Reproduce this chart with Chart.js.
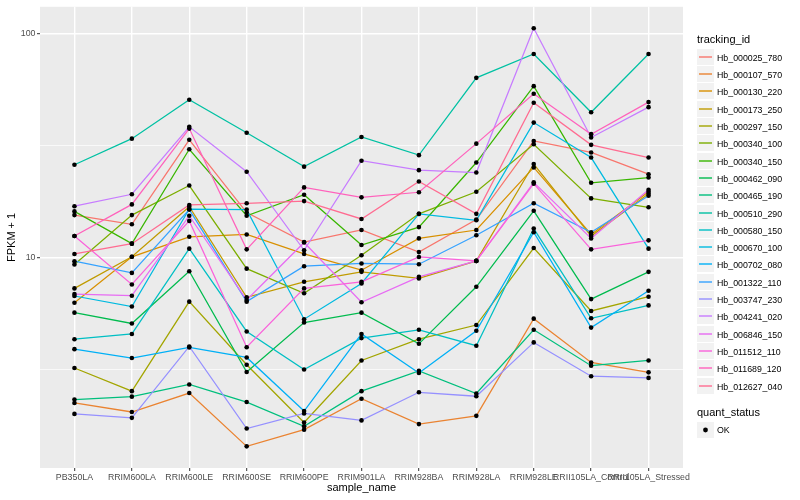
<!DOCTYPE html>
<html><head><meta charset="utf-8">
<script src="https://cdn.jsdelivr.net/npm/chart.js@4"></script>
<style>
html,body{margin:0;padding:0;background:#fff;}
#wrap{position:relative;width:800px;height:500px;font-family:"Liberation Sans",Arial,sans-serif;overflow:hidden;}
canvas{position:absolute;left:0;top:0;}
.lg{position:absolute;font-size:8.8px;line-height:10px;color:#000;white-space:nowrap;}
.lt{position:absolute;font-size:11px;line-height:13px;color:#000;white-space:nowrap;}
</style></head><body>
<div id="wrap"><canvas id="c" width="800" height="500"></canvas><div id="legend"></div></div>
<script>
// ---- data ----
const categories = ["PB350LA","RRIM600LA","RRIM600LE","RRIM600SE","RRIM600PE","RRIM901LA","RRIM928BA","RRIM928LA","RRIM928LE","RRII105LA_Control","RRII105LA_Stressed"];
const trackingIds = ["Hb_000025_780","Hb_000107_570","Hb_000130_220","Hb_000173_250","Hb_000297_150","Hb_000340_100","Hb_000340_150","Hb_000462_090","Hb_000465_190","Hb_000510_290","Hb_000580_150","Hb_000670_100","Hb_000702_080","Hb_001322_110","Hb_003747_230","Hb_004241_020","Hb_006846_150","Hb_011512_110","Hb_011689_120","Hb_012627_040"];
const seriesColors = ["#F8766D","#EA8331","#D89000","#C09B00","#A3A500","#7CAE00","#39B600","#00BB4E","#00BF7D","#00C1A3","#00BFC4","#00BAE0","#00B0F6","#35A2FF","#9590FF","#C77CFF","#E76BF3","#FA62DB","#FF62BC","#FF6C91"];
// FPKM + 1 values, one array per tracking_id, in category order
const hb000025_780 = [15.5, 14.1, 33.6, 15.9, 11.75, 13.3, 10.6, 14.8, 33.2, 29.5, 23.6];
const hb000107_570 = [2.25, 2.05, 2.49, 1.44, 1.71, 2.35, 1.81, 1.97, 5.35, 3.41, 3.08];
const hb000130_220 = [6.30, 10.1, 12.4, 12.7, 10.4, 8.80, 12.2, 13.3, 25.3, 12.7, 19.7];
const hb000173_250 = [7.30, 10.1, 16.9, 6.66, 7.81, 8.65, 8.09, 9.68, 26.2, 12.5, 19.3];
const hb000297_150 = [3.22, 2.54, 6.37, 3.33, 1.84, 3.48, 4.33, 5.01, 11.05, 5.79, 6.70];
const hb000340_100 = [9.33, 15.5, 21.0, 8.94, 6.94, 10.26, 15.7, 19.7, 32.1, 18.4, 16.8];
const hb000340_150 = [16.1, 11.56, 30.5, 15.4, 19.1, 11.4, 13.7, 26.6, 58.3, 21.6, 22.8];
const hb000462_090 = [5.69, 5.09, 8.71, 3.09, 5.14, 5.69, 4.13, 7.42, 16.2, 6.54, 8.65];
const hb000465_190 = [2.33, 2.40, 2.72, 2.27, 1.77, 2.54, 3.13, 2.48, 4.77, 3.30, 3.48];
const hb000510_290 = [26.0, 34.0, 50.7, 36.1, 25.5, 34.6, 28.7, 63.5, 81.1, 44.6, 81.1];
const hb000580_150 = [4.33, 4.57, 10.98, 4.69, 3.17, 4.38, 4.77, 4.05, 13.5, 5.37, 6.13];
const hb000670_100 = [6.75, 6.06, 16.5, 16.4, 5.32, 7.68, 15.7, 14.7, 40.1, 28.0, 10.98];
const hb000702_080 = [3.91, 3.57, 3.98, 3.59, 2.07, 4.57, 3.06, 4.72, 13.0, 4.88, 7.12];
const hb001322_110 = [9.65, 8.56, 16.4, 6.37, 9.17, 9.43, 9.36, 12.6, 17.5, 13.0, 18.9];
const hb003747_230 = [2.01, 1.93, 4.02, 1.73, 2.02, 1.88, 2.51, 2.41, 4.19, 2.96, 2.91];
const hb004241_020 = [16.98, 19.2, 38.4, 24.2, 10.8, 27.1, 24.6, 24.0, 105.7, 34.4, 47.0];
const hb006846_150 = [6.89, 6.77, 15.4, 6.48, 11.7, 6.33, 8.22, 9.68, 21.7, 12.2, 20.1];
const hb011512_110 = [12.5, 7.60, 14.6, 3.99, 7.30, 7.81, 10.08, 9.68, 21.4, 10.9, 11.96];
const hb011689_120 = [12.5, 17.3, 37.7, 10.9, 20.6, 18.6, 19.6, 32.3, 53.9, 35.6, 49.5];
const hb012627_040 = [10.4, 11.56, 17.2, 17.5, 17.9, 14.9, 21.9, 15.7, 49.2, 31.9, 28.0];
const seriesValues = [hb000025_780,hb000107_570,hb000130_220,hb000173_250,hb000297_150,hb000340_100,hb000340_150,hb000462_090,hb000465_190,hb000510_290,hb000580_150,hb000670_100,hb000702_080,hb001322_110,hb003747_230,hb004241_020,hb006846_150,hb011512_110,hb011689_120,hb012627_040];
const yMajorTicks = [10, 100];
const yMinorTicks = [3.1623, 31.623];
const yLimits = [1.153, 131.8];

// ---- chart ----
Chart.defaults.font.family = '"Liberation Sans", Arial, sans-serif';
const datasets = [];
datasets.push({
  label: 'OK', order: 0, showLine: false,
  data: seriesValues.flatMap(vals => vals.map((v, i) => ({x: i, y: v}))),
  pointRadius: 2.3, pointBackgroundColor: '#000', pointBorderWidth: 0, borderColor: '#000'
});
seriesValues.forEach((vals, k) => {
  datasets.push({
    label: trackingIds[k], order: 100 - k,
    data: vals.map((v, i) => ({x: i, y: v})),
    borderColor: seriesColors[k], borderWidth: 1.25, pointRadius: 0, tension: 0, fill: false
  });
});
const keyTop = i => Math.round(48.8 + i * 17.3);
const panelBg = {
  id: 'panelBg',
  beforeDraw(chart) {
    const {ctx, chartArea: a} = chart;
    ctx.save(); ctx.fillStyle = '#EBEBEB';
    ctx.fillRect(a.left, a.top, a.right - a.left, a.bottom - a.top);
    ctx.restore();
  },
  afterDraw(chart) {
    // legend key glyphs (boxes, line swatches, point)
    const ctx = chart.ctx;
    ctx.save();
    trackingIds.forEach((id, i) => {
      const t = keyTop(i);
      ctx.fillStyle = '#F2F2F2'; ctx.fillRect(697, t, 17, 16);
      ctx.strokeStyle = seriesColors[i]; ctx.lineWidth = 1.4;
      ctx.beginPath(); ctx.moveTo(699, t + 8); ctx.lineTo(712, t + 8); ctx.stroke();
    });
    ctx.fillStyle = '#F2F2F2'; ctx.fillRect(697, 422, 17, 16);
    ctx.fillStyle = '#000'; ctx.beginPath(); ctx.arc(705.5, 430, 2.4, 0, Math.PI * 2); ctx.fill();
    ctx.restore();
  }
};
const isMajor = v => yMajorTicks.some(m => Math.abs(m - v) < 1e-6);
new Chart(document.getElementById('c'), {
  type: 'line',
  data: {datasets},
  plugins: [panelBg],
  options: {
    responsive: false, animation: false, devicePixelRatio: 1,
    layout: {padding: {left: 0, right: 117, top: 5, bottom: 0}},
    plugins: {legend: {display: false}, tooltip: {enabled: false}},
    scales: {
      x: {
        type: 'linear', min: -0.6, max: 10.6,
        afterBuildTicks: s => { s.ticks = categories.map((c, i) => ({value: i})); },
        afterFit: s => { s.height = 32; },
        ticks: {autoSkip: false, maxRotation: 0, minRotation: 0, padding: 1.5, color: '#4D4D4D',
                font: {size: 8.8}, callback: v => categories[v]},
        grid: {color: '#FFFFFF', lineWidth: 1.4, tickColor: '#333333', tickLength: 3, tickWidth: 1},
        border: {display: false},
        title: {display: true, text: 'sample_name', color: '#000', font: {size: 11}, padding: {top: 0, bottom: 5.2}}
      },
      y: {
        type: 'logarithmic', min: yLimits[0], max: yLimits[1],
        afterBuildTicks: s => { s.ticks = yMinorTicks.concat(yMajorTicks).sort((a, b) => a - b).map(v => ({value: v})); },
        afterFit: s => { s.width = 40; },
        ticks: {autoSkip: false, padding: 1.5, color: '#4D4D4D', font: {size: 8.8},
                callback: v => isMajor(v) ? String(Math.round(v)) : ''},
        grid: {color: '#FFFFFF',
               lineWidth: c => (c.tick && isMajor(c.tick.value)) ? 1.4 : 0.7,
               tickColor: c => (c.tick && isMajor(c.tick.value)) ? '#333333' : 'rgba(0,0,0,0)',
               tickLength: 3, tickWidth: 1},
        border: {display: false},
        title: {display: true, text: 'FPKM + 1', color: '#000', font: {size: 11}, padding: {top: 5.4, bottom: 0}}
      }
    }
  }
});

// ---- legend text (HTML) ----
const lg = document.getElementById('legend');
function el(cls, style, text) {
  const d = document.createElement('div'); d.className = cls;
  Object.assign(d.style, style); d.textContent = text; lg.appendChild(d); return d;
}
el('lt', {left: '697px', top: '33px'}, 'tracking_id');
trackingIds.forEach((id, i) => {
  el('lg', {left: '717px', top: (keyTop(i) + 3.5) + 'px'}, id);
});
el('lt', {left: '697px', top: '405.5px'}, 'quant_status');
el('lg', {left: '717px', top: '425px'}, 'OK');
</script>
</body></html>
